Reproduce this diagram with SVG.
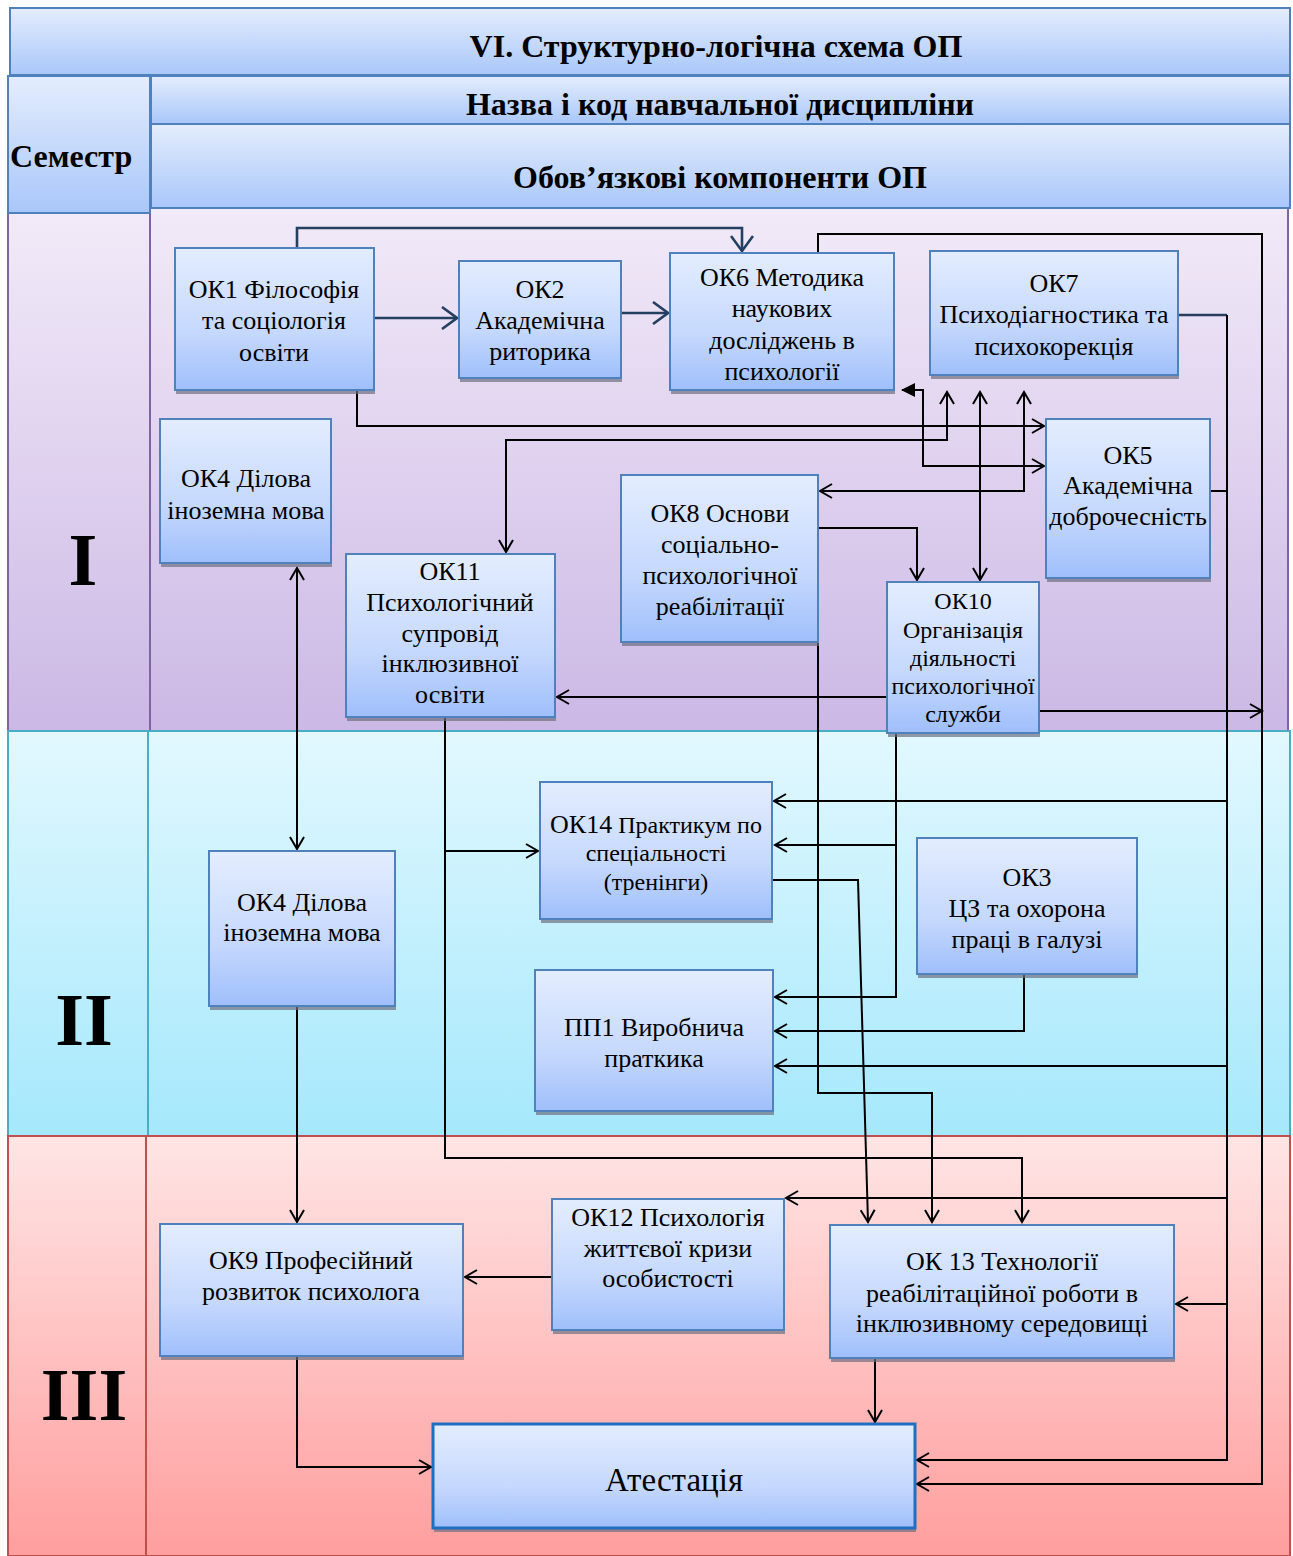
<svg xmlns="http://www.w3.org/2000/svg" width="1293" height="1556" viewBox="0 0 1293 1556">
<defs>
<linearGradient id="gNode" x1="0" y1="0" x2="0" y2="1"><stop offset="0" stop-color="#e3edfe"/><stop offset="0.6" stop-color="#c5d8fd"/><stop offset="1" stop-color="#9fbffb"/></linearGradient>
<linearGradient id="gHead" x1="0" y1="0" x2="0" y2="1"><stop offset="0" stop-color="#e4edfd"/><stop offset="1" stop-color="#a9c7fa"/></linearGradient>
<linearGradient id="gB1" x1="0" y1="0" x2="0" y2="1"><stop offset="0" stop-color="#f2eaf8"/><stop offset="1" stop-color="#cbb8e5"/></linearGradient>
<linearGradient id="gB2" x1="0" y1="0" x2="0" y2="1"><stop offset="0" stop-color="#e2f8fe"/><stop offset="1" stop-color="#a5e8fc"/></linearGradient>
<linearGradient id="gB3" x1="0" y1="0" x2="0" y2="1"><stop offset="0" stop-color="#ffe5e5"/><stop offset="1" stop-color="#ff9e9e"/></linearGradient>
<marker id="a" markerUnits="userSpaceOnUse" viewBox="0 0 16 16" markerWidth="16" markerHeight="16" refX="14" refY="8" orient="auto-start-reverse"><path d="M2,1 L14,8 L2,15" fill="none" stroke="#000" stroke-width="2"/></marker>
<marker id="n" markerUnits="userSpaceOnUse" viewBox="0 0 20 24" markerWidth="20" markerHeight="24" refX="18" refY="12" orient="auto-start-reverse"><path d="M3,1 L18,12 L3,23" fill="none" stroke="#243f60" stroke-width="2.6"/></marker>
<marker id="f" markerUnits="userSpaceOnUse" viewBox="0 0 16 16" markerWidth="16" markerHeight="16" refX="14" refY="8" orient="auto"><path d="M1,1 L15,8 L1,15 z" fill="#000"/></marker>
</defs>
<style>
.band{stroke-width:2}
.b1{fill:url(#gB1);stroke:#8064a2}
.b2{fill:url(#gB2);stroke:#4bacc6}
.b3{fill:url(#gB3);stroke:#c0504d}
.head{fill:url(#gHead);stroke:#4f81bd;stroke-width:2}
.ht{font-family:"Liberation Serif","Times New Roman",serif;font-weight:bold;font-size:32px;fill:#000}
.rom{font-family:"Liberation Serif","Times New Roman",serif;font-weight:bold;font-size:74px;fill:#000;text-anchor:middle}
.box{fill:url(#gNode);stroke:#4f81bd;stroke-width:2}
.sh{fill:#6f6f7f;opacity:0.7}
.t{font-family:"Liberation Serif","Times New Roman",serif;font-size:26px;fill:#000;text-anchor:middle}
.ts{font-size:24px}
.tm{font-size:24px}
.tl{font-size:33px}
.c{fill:none;stroke:#000;stroke-width:2}
.cn{fill:none;stroke:#243f60;stroke-width:2.6}
.ae{marker-end:url(#a)}
.ab{marker-start:url(#a);marker-end:url(#a)}
.ne{marker-end:url(#n)}
</style>

<g id="bands">
<rect class="band b1" x="150" y="208" width="1138" height="523"/>
<rect class="band b1" x="8" y="213" width="142" height="518"/>
<rect class="band b2" x="148" y="731" width="1142" height="405"/>
<rect class="band b2" x="8" y="731" width="140" height="405"/>
<rect class="band b3" x="146" y="1136" width="1144" height="420"/>
<rect class="band b3" x="8" y="1136" width="138" height="420"/>
<text class="rom" x="83" y="585">I</text>
<text class="rom" x="84" y="1045">II</text>
<text class="rom" x="84" y="1420">III</text>
</g>

<g id="header">
<rect class="head" x="10" y="8" width="1280" height="67"/>
<text class="ht" x="716" y="57" text-anchor="middle">VI. Структурно-логічна схема ОП</text>
<rect class="head" x="8" y="76" width="142" height="137"/>
<text class="ht" x="10" y="167">Семестр</text>
<rect class="head" x="151" y="76" width="1139" height="48"/>
<text class="ht" x="720" y="115" text-anchor="middle">Назва і код навчальної дисципліни</text>
<rect class="head" x="151" y="124" width="1139" height="84"/>
<text class="ht" x="720" y="188" text-anchor="middle">Обов’язкові компоненти ОП</text>
</g>

<g id="connectors">
<path class="cn ne" d="M374,318 H457"/>
<path class="cn ne" d="M621,313 H668"/>
<path class="cn ne" d="M297,248 V228 H742 V251"/>
<path class="cn" d="M1178,315 H1227"/>
<path class="c ae" d="M357,390 V426 H1044"/>
<path class="c ab" d="M947,392 V440 H506 V552"/>
<path class="c" d="M1044,466 H923 V390 H902" style="marker-start:url(#a);marker-end:url(#f)"/>
<path class="c ab" d="M980,392 V580"/>
<path class="c ab" d="M1024,392 V491 H820"/>
<path class="c ae" d="M818,528 H917 V580"/>
<path class="c ae" d="M887,697 H557"/>
<path class="c ae" d="M1039,711 H1262"/>
<path class="c ab" d="M297,568 V849"/>
<path class="c ae" d="M445,717 V1158 H1022 V1222"/>
<path class="c ae" d="M445,851 H538"/>
<path class="c ae" d="M818,617 V1093 H932 V1222"/>
<path class="c ae" d="M896,733 V997 H775"/>
<path class="c ae" d="M896,845 H775"/>
<path class="c ae" d="M772,880 H858 L868,1222"/>
<path class="c ae" d="M1024,974 V1031 H775"/>
<path class="c ae" d="M297,1006 V1222"/>
<path class="c ae" d="M552,1277 H465"/>
<path class="c ae" d="M297,1356 V1467 H431"/>
<path class="c ae" d="M875,1358 V1422"/>
<path class="c ae" d="M1227,315 V1460 H917"/>
<path class="c" d="M1210,491 H1227"/>
<path class="c ae" d="M1227,801 H774"/>
<path class="c ae" d="M1227,1066 H775"/>
<path class="c ae" d="M1227,1198 H786"/>
<path class="c ae" d="M1227,1304 H1176"/>
<path class="c ae" d="M818,253 V234 H1262 V1484 H917"/>
</g>

<g id="ok1"><rect class="sh" x="176" y="252" width="199" height="142"/><rect class="box" x="175" y="248" width="199" height="142"/>
<text class="t" x="274" y="298">ОК1 Філософія</text><text class="t" x="274" y="329">та соціологія</text><text class="t" x="274" y="361">освіти</text></g>
<g id="ok2"><rect class="sh" x="460" y="265" width="162" height="117"/><rect class="box" x="459" y="261" width="162" height="117"/>
<text class="t" x="540" y="298">ОК2</text><text class="t" x="540" y="329">Академічна</text><text class="t" x="540" y="360">риторика</text></g>
<g id="ok6"><rect class="sh" x="671" y="257" width="224" height="137"/><rect class="box" x="670" y="253" width="224" height="137"/>
<text class="t" x="782" y="286">ОК6 Методика</text><text class="t" x="782" y="317">наукових</text><text class="t" x="782" y="349">досліджень в</text><text class="t" x="782" y="380">психології</text></g>
<g id="ok7"><rect class="sh" x="931" y="255" width="248" height="124"/><rect class="box" x="930" y="251" width="248" height="124"/>
<text class="t" x="1054" y="292">ОК7</text><text class="t" x="1054" y="323">Психодіагностика та</text><text class="t" x="1054" y="355">психокорекція</text></g>
<g id="ok4a"><rect class="sh" x="161" y="423" width="171" height="144"/><rect class="box" x="160" y="419" width="171" height="144"/>
<text class="t" x="246" y="487">ОК4 Ділова</text><text class="t" x="246" y="519">іноземна мова</text></g>
<g id="ok5"><rect class="sh" x="1047" y="423" width="164" height="159"/><rect class="box" x="1046" y="419" width="164" height="159"/>
<text class="t" x="1128" y="464">ОК5</text><text class="t" x="1128" y="494">Академічна</text><text class="t" x="1128" y="525">доброчесність</text></g>
<g id="ok8"><rect class="sh" x="622" y="479" width="197" height="167"/><rect class="box" x="621" y="475" width="197" height="167"/>
<text class="t" x="720" y="522">ОК8 Основи</text><text class="t" x="720" y="553">соціально-</text><text class="t" x="720" y="584">психологічної</text><text class="t" x="720" y="615">реабілітації</text></g>
<g id="ok11"><rect class="sh" x="347" y="558" width="209" height="163"/><rect class="box" x="346" y="554" width="209" height="163"/>
<text class="t" x="450" y="580">ОК11</text><text class="t" x="450" y="611">Психологічний</text><text class="t" x="450" y="642">супровід</text><text class="t" x="450" y="672">інклюзивної</text><text class="t" x="450" y="703">освіти</text></g>
<g id="ok10"><rect class="sh" x="888" y="586" width="152" height="151"/><rect class="box" x="887" y="582" width="152" height="151"/>
<text class="t ts" x="963" y="609">ОК10</text><text class="t ts" x="963" y="638">Організація</text><text class="t ts" x="963" y="666">діяльності</text><text class="t ts" x="963" y="694">психологічної</text><text class="t ts" x="963" y="722">служби</text></g>
<g id="ok14"><rect class="sh" x="541" y="786" width="232" height="137"/><rect class="box" x="540" y="782" width="232" height="137"/>
<text class="t tm" x="656" y="833"><tspan font-size="26">ОК14</tspan> Практикум по</text><text class="t tm" x="656" y="861">спеціальності</text><text class="t tm" x="656" y="890">(тренінги)</text></g>
<g id="ok4b"><rect class="sh" x="210" y="855" width="186" height="155"/><rect class="box" x="209" y="851" width="186" height="155"/>
<text class="t" x="302" y="911">ОК4 Ділова</text><text class="t" x="302" y="941">іноземна мова</text></g>
<g id="ok3"><rect class="sh" x="918" y="842" width="220" height="136"/><rect class="box" x="917" y="838" width="220" height="136"/>
<text class="t" x="1027" y="886">ОК3</text><text class="t" x="1027" y="917">ЦЗ та охорона</text><text class="t" x="1027" y="948">праці в галузі</text></g>
<g id="pp1"><rect class="sh" x="536" y="974" width="238" height="141"/><rect class="box" x="535" y="970" width="238" height="141"/>
<text class="t" x="654" y="1036">ПП1 Виробнича</text><text class="t" x="654" y="1067">праткика</text></g>
<g id="ok9"><rect class="sh" x="161" y="1228" width="303" height="132"/><rect class="box" x="160" y="1224" width="303" height="132"/>
<text class="t" x="311" y="1269">ОК9 Професійний</text><text class="t" x="311" y="1300">розвиток психолога</text></g>
<g id="ok12"><rect class="sh" x="553" y="1203" width="232" height="131"/><rect class="box" x="552" y="1199" width="232" height="131"/>
<text class="t" x="668" y="1226">ОК12 Психологія</text><text class="t" x="668" y="1257">життєвої кризи</text><text class="t" x="668" y="1287">особистості</text></g>
<g id="ok13"><rect class="sh" x="831" y="1229" width="344" height="133"/><rect class="box" x="830" y="1225" width="344" height="133"/>
<text class="t" x="1002" y="1270">ОК 13 Технології</text><text class="t" x="1002" y="1302">реабілітаційної роботи в</text><text class="t" x="1002" y="1332">інклюзивному середовищі</text></g>
<g id="atest"><rect class="sh" x="434" y="1428" width="482" height="104"/><rect class="box" x="433" y="1424" width="482" height="104" style="stroke:#1f6fc0;stroke-width:3"/>
<text class="t tl" x="674" y="1491">Атестація</text></g>
</svg>
